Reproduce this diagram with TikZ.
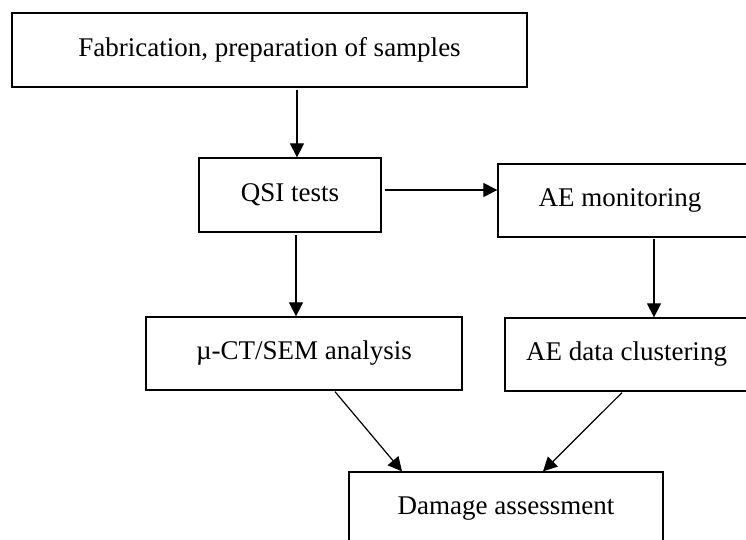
\documentclass[tikz,border=0pt]{standalone}
\usepackage{fontspec}
\setmainfont{Liberation Serif}
\usetikzlibrary{arrows.meta,calc}
\begin{document}
\begin{tikzpicture}[x=1pt,y=-1pt,
  box/.style={draw=black,line width=1.3pt,rectangle,inner sep=0pt,font=\fontsize{27}{32}\selectfont},
  arr/.style={line width=1.2pt,-{Triangle[length=14pt,width=14pt]}}]
\useasboundingbox (0,0) rectangle (746,539);
\clip (0,0) rectangle (746,539);
\node[box,minimum width=515pt,minimum height=74pt] (A) at (269.5,50) {Fabrication, preparation of samples};
\node[box,minimum width=182pt,minimum height=74pt] (B) at (290,195) {QSI tests};
\node[box,minimum width=262pt,minimum height=73pt] (C) at (629,200.5) {};
\node (Ct) at (620,200) {\fontsize{27}{32}\selectfont AE monitoring};
\node[box,minimum width=316pt,minimum height=73pt] (D) at (304,353.5) {µ-CT/SEM analysis};
\node[box,minimum width=243pt,minimum height=73pt] (E) at (626.5,354.5) {AE data clustering};
\node[box,minimum width=314pt,minimum height=74pt] (F) at (506,509) {Damage assessment};
\coordinate (xa) at (297,0);
\coordinate (xb) at (296,0);
\coordinate (yb) at (0,190);
\coordinate (xc) at (654,0);
\coordinate (d1) at (335,0);
\coordinate (f1) at (402,0);
\coordinate (e1) at (622,0);
\coordinate (f2) at (543,0);
\draw[arr] ($(A.south -| xa)+(0,2)$) -- (B.north -| xa);
\draw[arr] ($(B.east |- yb)+(3,0)$) -- (C.west |- yb);
\draw[arr] ($(B.south -| xb)+(0,2)$) -- (D.north -| xb);
\draw[arr] ($(C.south -| xc)+(0,1)$) -- (E.north -| xc);
\draw[arr] ($(D.south -| d1)+(0,1)$) -- (F.north -| f1);
\draw[arr] ($(E.south -| e1)+(0,1)$) -- (F.north -| f2);
\end{tikzpicture}
\end{document}
